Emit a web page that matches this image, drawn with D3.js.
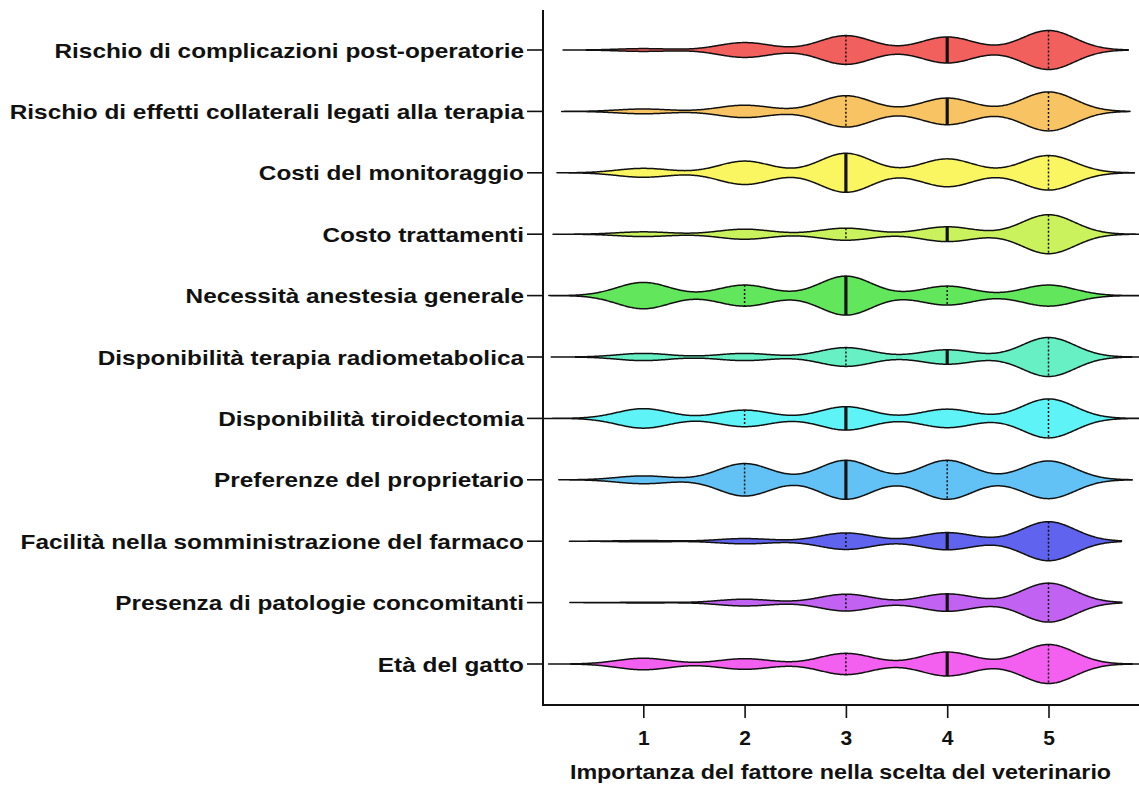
<!DOCTYPE html>
<html>
<head>
<meta charset="utf-8">
<script src="https://cdn.jsdelivr.net/npm/d3@7"></script>
<style>
  html, body { margin: 0; padding: 0; background: #fff; }
  svg text { font-family: "Liberation Sans", Arial, Helvetica, sans-serif; font-weight: bold; fill: #111; }
</style>
</head>
<body>
<svg id="chart" width="1139" height="786"></svg>
<script>
// Factors rated by veterinarians (Likert scale 1–5)
const factors = [
  "Rischio di complicazioni post-operatorie",
  "Rischio di effetti collaterali legati alla terapia",
  "Costi del monitoraggio",
  "Costo trattamenti",
  "Necessità anestesia generale",
  "Disponibilità terapia radiometabolica",
  "Disponibilità tiroidectomia",
  "Preferenze del proprietario",
  "Facilità nella somministrazione del farmaco",
  "Presenza di patologie concomitanti",
  "Età del gatto"
];

// Number of answers per score, one entry per factor (same order as above)
const score1 = [3, 5, 8, 7, 25, 10, 20, 6, 2, 1, 13];
const score2 = [16, 13, 21, 15, 20, 10, 17, 25, 8, 10, 12];
const score3 = [31, 33, 35, 18, 37, 26, 24, 30, 25, 25, 24];
const score4 = [28, 28, 25, 22, 18, 20, 19, 30, 26, 26, 27];
const score5 = [42, 41, 31, 58, 20, 54, 40, 29, 59, 58, 44];

const scoreLevels = [1, 2, 3, 4, 5];
const xTickValues = [1, 2, 3, 4, 5];
const xTitle = "Importanza del fattore nella scelta del veterinario";

const palette = ["#f2605e", "#f8c463", "#f9f662", "#c9f25c", "#62e65b", "#66f0c3",
                 "#5ef3f6", "#63c2f5", "#5f63ee", "#c262f2", "#f360ef"];

const svg = d3.select("#chart");
const W = 1139;
const axisX = 543, axisTop = 10, axisBottom = 705;
const fontSize = 21;

const x = d3.scaleLinear().domain([0, 6]).range([542, 542 + 6 * 101.3]);
const y = d3.scalePoint().domain(factors).range([50, 664]);

// Expand counts into individual answers for each factor
const rows = factors.map((name, i) => {
  const counts = [score1[i], score2[i], score3[i], score4[i], score5[i]];
  const values = [];
  scoreLevels.forEach((s, k) => { for (let j = 0; j < counts[k]; j++) values.push(s); });
  values.sort(d3.ascending);
  return { name, counts, values, color: palette[i] };
});

// Gaussian kernel density, bandwidth in score units
const kernelBw = 0.26;
function density(values, v) {
  let s = 0;
  for (const d of values) { const u = (v - d) / kernelBw; s += Math.exp(-0.5 * u * u); }
  return s;
}

svg.append("defs").append("clipPath").attr("id", "plotClip")
  .append("rect").attr("x", axisX).attr("y", 0).attr("width", W - axisX).attr("height", axisBottom);

const plot = svg.append("g").attr("clip-path", "url(#plotClip)");
const maxHalf = 19.5;

rows.forEach(r => {
  const n = r.values.length;
  const sd = d3.deviation(r.values);
  const reach = 2 * 0.9 * sd * Math.pow(n, -0.2);
  const lo = d3.min(r.values) - reach, hi = d3.max(r.values) + reach;
  const pts = d3.range(lo, hi + 1e-9, 0.01).map(v => ({ v, d: density(r.values, v) }));
  const w = d3.scaleLinear().domain([0, d3.max(pts, p => p.d)]).range([0, maxHalf]);
  const cy = y(r.name);

  const area = d3.area()
    .x(p => x(p.v))
    .y0(p => cy - w(p.d))
    .y1(p => cy + w(p.d))
    .curve(d3.curveLinear);

  plot.append("path").datum(pts)
    .attr("d", area)
    .attr("fill", r.color)
    .attr("stroke", "#111")
    .attr("stroke-width", 1.5)
    .attr("stroke-linejoin", "round");

  const q1 = d3.quantile(r.values, 0.25);
  const med = d3.quantile(r.values, 0.5);
  const q3 = d3.quantile(r.values, 0.75);

  [q1, q3].forEach(q => {
    const hw = w(density(r.values, q));
    plot.append("line")
      .attr("x1", x(q)).attr("x2", x(q))
      .attr("y1", cy - hw).attr("y2", cy + hw)
      .attr("stroke", "#111").attr("stroke-width", 1.5)
      .attr("stroke-dasharray", "2,2");
  });
  const hm = w(density(r.values, med));
  plot.append("line")
    .attr("x1", x(med)).attr("x2", x(med))
    .attr("y1", cy - hm).attr("y2", cy + hm)
    .attr("stroke", "#111").attr("stroke-width", 3.2);
});

// Y axis with factor labels
const yAxis = svg.append("g");
yAxis.append("line")
  .attr("x1", axisX).attr("x2", axisX).attr("y1", axisTop).attr("y2", axisBottom + 1)
  .attr("stroke", "#111").attr("stroke-width", 2);
factors.forEach(f => {
  yAxis.append("line")
    .attr("x1", axisX - 16).attr("x2", axisX).attr("y1", y(f)).attr("y2", y(f))
    .attr("stroke", "#111").attr("stroke-width", 1.6);
  yAxis.append("text")
    .attr("transform", `translate(${axisX - 19},${y(f)}) scale(1.16,1)`)
    .attr("dy", "0.36em")
    .attr("text-anchor", "end")
    .attr("font-size", fontSize)
    .text(f);
});

// X axis
const xAxis = svg.append("g").attr("transform", `translate(0,${axisBottom})`)
  .call(d3.axisBottom(x).tickValues(xTickValues).tickSize(13).tickSizeOuter(0).tickFormat(d3.format("d")));
xAxis.select(".domain").remove();
xAxis.attr("font-family", null).attr("font-size", null);
xAxis.append("line").attr("x1", axisX).attr("x2", W).attr("y1", 0).attr("y2", 0)
  .attr("stroke", "#111").attr("stroke-width", 2);
xAxis.selectAll(".tick line").attr("stroke", "#111").attr("stroke-width", 1.6);
xAxis.selectAll(".tick text")
  .attr("y", 40).attr("dy", null)
  .attr("font-size", fontSize).style("fill", "#111");

svg.append("text")
  .attr("transform", `translate(${(569 + 1112) / 2},779) scale(1.11,1)`)
  .attr("text-anchor", "middle")
  .attr("font-size", fontSize)
  .text(xTitle);
</script>
</body>
</html>
